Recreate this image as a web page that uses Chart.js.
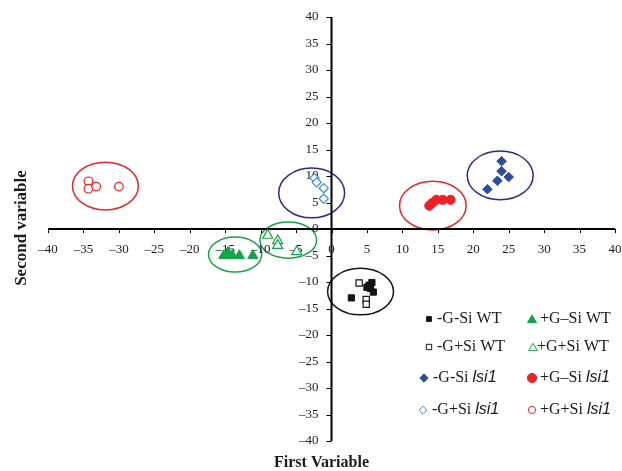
<!DOCTYPE html>
<html>
<head>
<meta charset="utf-8">
<script src="https://cdn.jsdelivr.net/npm/chart.js"></script>
<style>
  html, body { margin: 0; padding: 0; background: #ffffff; }
  #wrap { width: 622px; height: 471px; }
</style>
</head>
<body>
<div id="wrap"><canvas id="chart" width="622" height="471"></canvas></div>
<script>
// Axis ticks shared by both variables
const tickValues = [-40, -35, -30, -25, -20, -15, -10, -5, 0, 5, 10, 15, 20, 25, 30, 35, 40];

// Series names (legend order: left column, then right column)
const seriesLabels = ['-G-Si WT', '-G+Si WT', '-G-Si lsi1', '-G+Si lsi1',
                      '+G\u2013Si WT', '+G+Si WT', '+G\u2013Si lsi1', '+G+Si lsi1'];

// Scores on the first and second variable, one pair of arrays per series
const mGmSiWT_x   = [2.8, 5.3, 5.7, 5.5, 5.9, 5.0];
const mGmSiWT_y   = [-13.0, -10.6, -10.1, -11.2, -11.9, -11.0];
const mGpSiWT_x   = [3.9, 4.9, 4.9];
const mGpSiWT_y   = [-10.2, -13.3, -14.2];
const mGmSiLsi_x  = [24.0, 24.0, 25.0, 23.4, 22.0];
const mGmSiLsi_y  = [12.8, 10.9, 9.8, 9.1, 7.5];
const mGpSiLsi_x  = [-2.4, -2.1, -1.1, -1.1];
const mGpSiLsi_y  = [9.6, 8.8, 7.7, 5.7];
const pGmSiWT_x   = [-15.2, -14.6, -14.0, -13.0, -11.1];
const pGmSiWT_y   = [-5.0, -4.4, -5.0, -5.0, -5.0];
const pGpSiWT_x   = [-9.0, -7.6, -7.6, -4.9];
const pGpSiWT_y   = [-1.2, -2.2, -3.1, -4.3];
const pGmSiLsi_x  = [13.8, 14.2, 14.8, 15.7, 16.8];
const pGmSiLsi_y  = [4.4, 4.9, 5.5, 5.5, 5.5];
const pGpSiLsi_x  = [-34.3, -34.3, -33.2, -30.0];
const pGpSiLsi_y  = [9.0, 7.6, 8.0, 8.0];

// Cluster outlines: centre and half-extent in variable units
const clusterCx = [4.1, -31.9, -2.8, -6.1, -13.6, 14.3, 23.8];
const clusterCy = [-11.8, 8.1, 6.8, -2.1, -4.8, 4.4, 10.1];
const clusterRx = [4.65, 4.65, 4.65, 4.0, 3.75, 4.7, 4.65];
const clusterRy = [4.4, 4.5, 4.7, 3.4, 3.3, 4.6, 4.6];

const pairs = (xs, ys) => xs.map((v, i) => ({ x: v, y: ys[i] }));

const BLACK = '#141414', GREEN = '#12a44a', NAVY = '#2c4d9f', SKY = '#3a8cd8', RED = '#ec2227';
const clusterColors = ['#141414', '#e8262b', '#2a2c88', '#19a34a', '#19a34a', '#e8262b', '#2a2c88'];

const serif = '"Liberation Serif", "Times New Roman", serif';
const sans = '"Liberation Sans", Arial, sans-serif';

const styles = [
  { pointStyle: 'rect',     color: BLACK, filled: true,  r: 4.4, lr: 3.4 },
  { pointStyle: 'rect',     color: BLACK, filled: false, r: 4.4, lr: 3.8 },
  { pointStyle: 'rectRot',  color: NAVY,  filled: true,  r: 4.8, lr: 4.2 },
  { pointStyle: 'rectRot',  color: SKY,   filled: false, r: 4.6, lr: 3.8 },
  { pointStyle: 'triangle', color: GREEN, filled: true,  r: 5.8, lr: 5.2 },
  { pointStyle: 'triangle', color: GREEN, filled: false, r: 5.8, lr: 5.0 },
  { pointStyle: 'circle',   color: RED,   filled: true,  r: 4.6, lr: 4.6 },
  { pointStyle: 'circle',   color: RED,   filled: false, r: 4.3, lr: 3.6 }
];

const seriesData = [
  pairs(mGmSiWT_x, mGmSiWT_y), pairs(mGpSiWT_x, mGpSiWT_y),
  pairs(mGmSiLsi_x, mGmSiLsi_y), pairs(mGpSiLsi_x, mGpSiLsi_y),
  pairs(pGmSiWT_x, pGmSiWT_y), pairs(pGpSiWT_x, pGpSiWT_y),
  pairs(pGmSiLsi_x, pGmSiLsi_y), pairs(pGpSiLsi_x, pGpSiLsi_y)
];

const datasets = seriesLabels.map((label, i) => ({
  label,
  data: seriesData[i],
  pointStyle: styles[i].pointStyle,
  pointRadius: styles[i].r,
  pointHoverRadius: styles[i].r,
  pointBorderWidth: styles[i].filled ? 1 : 1.2,
  borderColor: styles[i].color,
  backgroundColor: styles[i].filled ? styles[i].color : '#ffffff'
}));

// Legend slots: marker x, text x, row y
const legendSlots = [
  { mx: 429, tx: 437, y: 319 }, { mx: 429, tx: 437, y: 347 },
  { mx: 424, tx: 433, y: 378 }, { mx: 423, tx: 432, y: 410 },
  { mx: 532, tx: 540, y: 319 }, { mx: 533, tx: 537, y: 347 },
  { mx: 532, tx: 540, y: 378 }, { mx: 532, tx: 540, y: 410 }
];

function drawMarker(ctx, style, x, y, r) {
  ctx.save();
  ctx.lineWidth = 1;
  ctx.strokeStyle = style.color;
  ctx.fillStyle = style.filled ? style.color : '#ffffff';
  ctx.beginPath();
  if (style.pointStyle === 'rect') {
    const s = r * Math.SQRT1_2;
    ctx.rect(x - s, y - s, 2 * s, 2 * s);
  } else if (style.pointStyle === 'rectRot') {
    ctx.moveTo(x, y - r); ctx.lineTo(x + r, y); ctx.lineTo(x, y + r); ctx.lineTo(x - r, y); ctx.closePath();
  } else if (style.pointStyle === 'triangle') {
    const h = r * 0.75;
    ctx.moveTo(x, y - h); ctx.lineTo(x + r * 0.866, y + h * 0.9); ctx.lineTo(x - r * 0.866, y + h * 0.9); ctx.closePath();
  } else {
    ctx.arc(x, y, r, 0, Math.PI * 2);
  }
  ctx.fill();
  ctx.stroke();
  ctx.restore();
}

const fmt = v => (v < 0 ? '\u2013' + Math.abs(v) : String(v));

const crossAxes = {
  id: 'crossAxes',
  beforeDatasetsDraw(chart) {
    const { ctx } = chart;
    const xs = chart.scales.x, ys = chart.scales.y;
    const x0 = xs.getPixelForValue(0), y0 = ys.getPixelForValue(0);
    ctx.save();

    // cluster outlines
    ctx.lineWidth = 1.5;
    clusterCx.forEach((cx, i) => {
      const px = xs.getPixelForValue(cx), py = ys.getPixelForValue(clusterCy[i]);
      const rx = xs.getPixelForValue(cx + clusterRx[i]) - px;
      const ry = py - ys.getPixelForValue(clusterCy[i] + clusterRy[i]);
      ctx.strokeStyle = clusterColors[i];
      ctx.beginPath();
      ctx.ellipse(px, py, rx, ry, 0, 0, Math.PI * 2);
      ctx.stroke();
    });

    // axis lines through the origin
    ctx.strokeStyle = '#000000';
    ctx.lineWidth = 2;
    ctx.beginPath();
    ctx.moveTo(xs.getPixelForValue(-40), y0); ctx.lineTo(xs.getPixelForValue(40), y0);
    ctx.moveTo(x0, ys.getPixelForValue(40)); ctx.lineTo(x0, ys.getPixelForValue(-40));
    ctx.stroke();

    // tick marks
    ctx.lineWidth = 1;
    ctx.beginPath();
    tickValues.forEach(v => {
      const px = Math.round(xs.getPixelForValue(v)) + 0.5;
      ctx.moveTo(px, y0); ctx.lineTo(px, y0 + 4);
      const py = Math.round(ys.getPixelForValue(v)) + 0.5;
      ctx.moveTo(x0 - 5, py); ctx.lineTo(x0, py);
    });
    ctx.stroke();

    // tick labels
    ctx.fillStyle = '#222222';
    ctx.font = '13px ' + serif;
    ctx.textBaseline = 'middle';
    ctx.textAlign = 'center';
    tickValues.forEach(v => ctx.fillText(fmt(v), xs.getPixelForValue(v), y0 + 21));
    ctx.textAlign = 'right';
    tickValues.forEach(v => ctx.fillText(fmt(v), x0 - 13, ys.getPixelForValue(v)));

    // axis titles
    ctx.fillStyle = '#1a1a1a';
    ctx.font = 'bold 16px ' + serif;
    ctx.textAlign = 'center';
    ctx.fillText('First Variable', (chart.chartArea.left + chart.chartArea.right) / 2 - 10, 463);
    ctx.save();
    ctx.translate(22, 228);
    ctx.rotate(-Math.PI / 2);
    ctx.font = 'bold 17px ' + serif;
    ctx.fillText('Second variable', 0, 0);
    ctx.restore();

    ctx.restore();
  },
  afterDraw(chart) {
    const { ctx } = chart;
    ctx.save();
    ctx.textBaseline = 'middle';
    ctx.textAlign = 'left';
    ctx.fillStyle = '#1a1a1a';
    chart.data.datasets.forEach((ds, i) => {
      const slot = legendSlots[i];
      drawMarker(ctx, styles[i], slot.mx, slot.y, styles[i].lr);
      const label = ds.label;
      const idx = label.indexOf('lsi1');
      const plain = idx >= 0 ? label.slice(0, idx) : label;
      ctx.font = '16px ' + serif;
      ctx.fillText(plain, slot.tx, slot.y);
      if (idx >= 0) {
        const w = ctx.measureText(plain).width;
        ctx.font = 'italic 16px ' + sans;
        ctx.fillText('lsi1', slot.tx + w, slot.y);
      }
    });
    ctx.restore();
  }
};

new Chart(document.getElementById('chart'), {
  type: 'scatter',
  data: { datasets },
  options: {
    responsive: false,
    animation: false,
    devicePixelRatio: 1,
    layout: { padding: { left: 48, right: 7, top: 17, bottom: 30 } },
    plugins: { legend: { display: false }, tooltip: { enabled: false }, title: { display: false } },
    scales: {
      x: { type: 'linear', min: -40, max: 40, display: false },
      y: { type: 'linear', min: -40, max: 40, display: false }
    }
  },
  plugins: [crossAxes]
});
</script>
</body>
</html>
